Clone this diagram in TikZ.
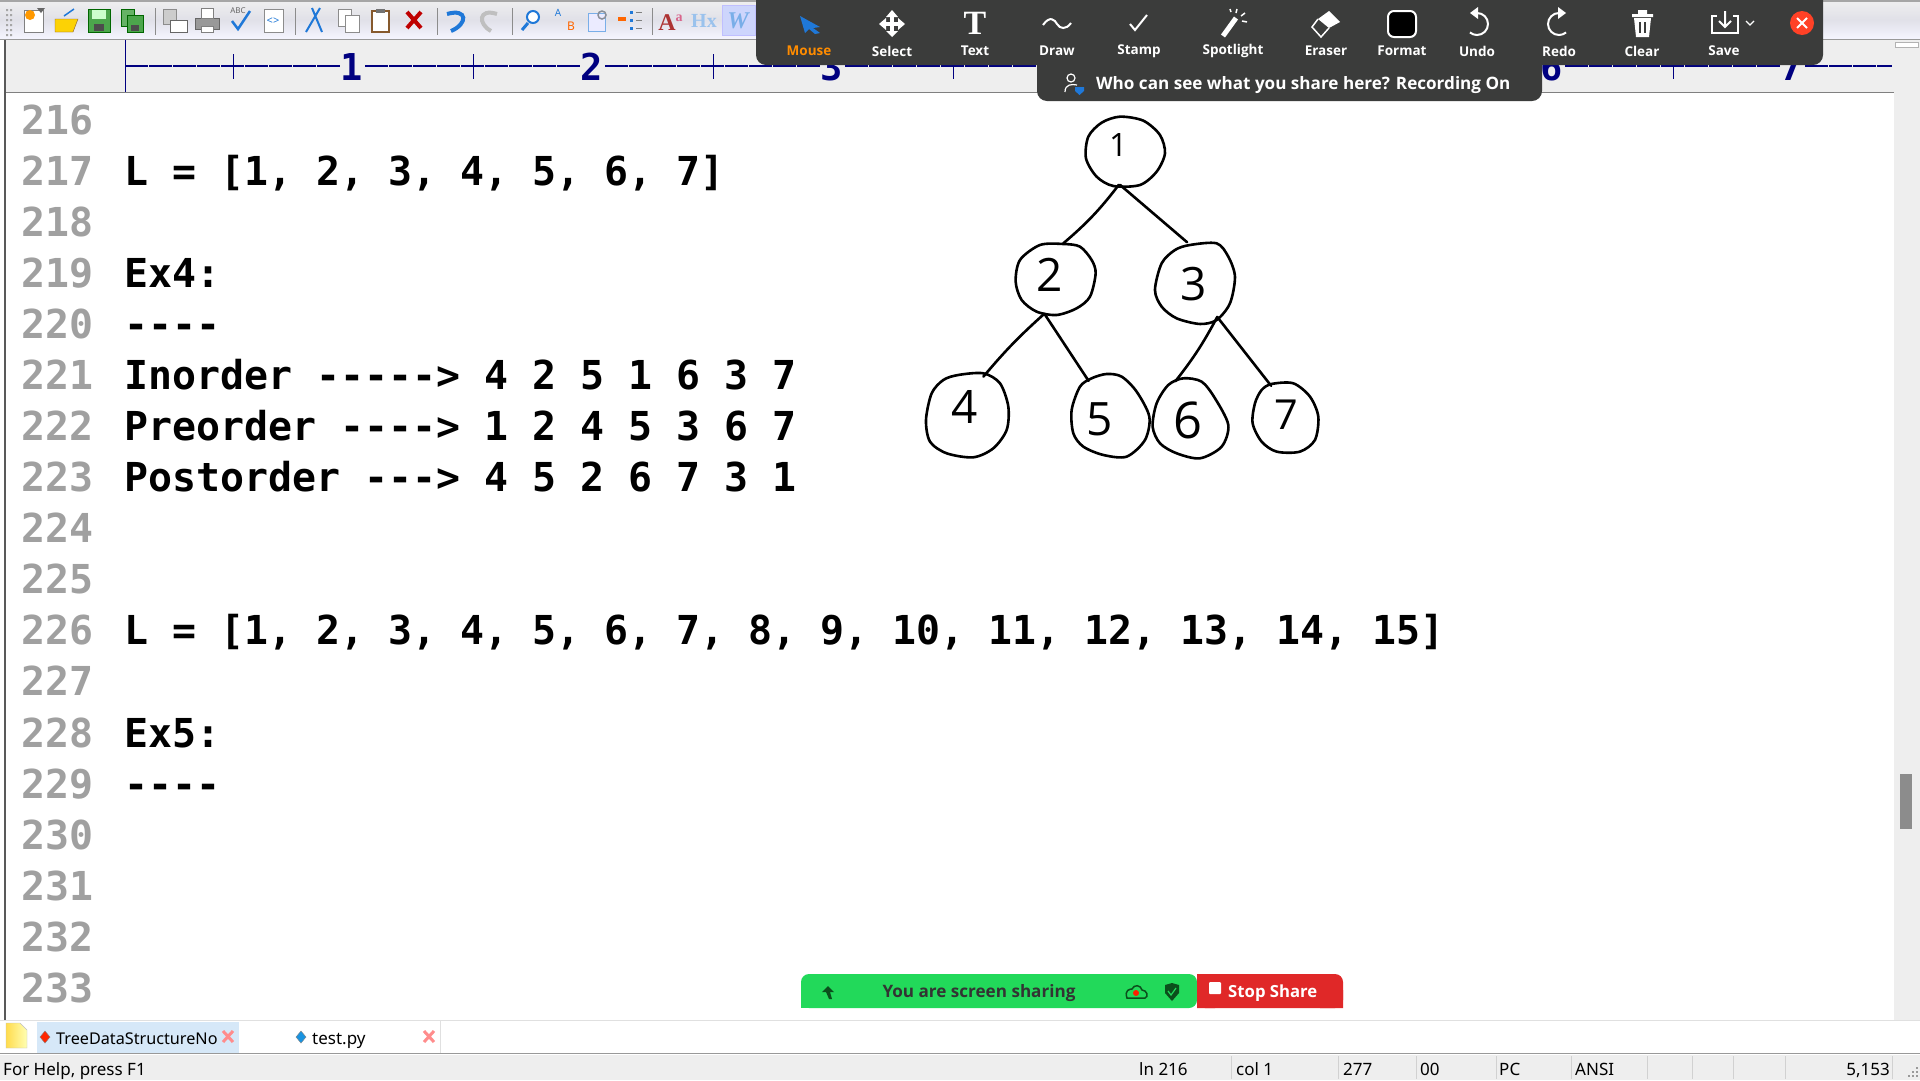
\documentclass[tikz,border=0pt]{standalone}
\usepackage{fontspec}
\usetikzlibrary{shapes.geometric}
\newfontfamily\codefont{DejaVu Sans Mono}
\newfontfamily\uifont{Noto Sans}
\newfontfamily\boldfont{Open Sans}
\newfontfamily\handfont{Open Sans}
\newfontfamily\iconserif{Liberation Serif}
\definecolor{numgray}{HTML}{A0A0A0}
\definecolor{rulerbg}{HTML}{EEEEEE}
\definecolor{rulerblue}{HTML}{000080}
\definecolor{zoombg}{HTML}{3B3C3B}
\definecolor{sharegreen}{HTML}{22D95A}
\definecolor{sharered}{HTML}{E02828}
\definecolor{darkgreen}{HTML}{0B4F1C}
\definecolor{tabblue}{HTML}{D6E8F8}
\definecolor{iconblue}{HTML}{1F78D8}
\definecolor{icongray}{HTML}{8A8F98}
\tikzset{
  codetext/.style={font={\codefont\bfseries\fontsize{39.87}{40}\selectfont},anchor=base west,inner sep=0pt},
  linenum/.style={codetext,text=numgray},
  rulerdigit/.style={font={\codefont\bfseries\fontsize{37}{37}\selectfont},text=rulerblue,fill=rulerbg,inner sep=1pt},
  rulertick/.style={draw=rulerblue,line width=1pt},
  zoomlabel/.style={font={\boldfont\bfseries\fontsize{13.5}{14}\selectfont},text=white,inner sep=0pt},
  zoomicon/.style={draw=white,line width=2pt},
  uitext/.style={font={\uifont\fontsize{17}{18}\selectfont},anchor=base west,inner sep=0pt},
  statustick/.style={draw=black!18,line width=1pt},
  toolsep/.style={draw=black!45,line width=1pt},
  blob/.style={ellipse,inner sep=0pt},
  handline/.style={draw=black,line width=2.6pt,line cap=round,line join=round},
  digit/.style={font={\handfont\fontsize{46}{46}\selectfont},inner sep=0pt},
}
\begin{document}
\begin{tikzpicture}[x=1pt,y=-1pt]
\useasboundingbox (0,0) rectangle (1920,1080);
\fill[white] (0,0) rectangle (1920,1080);

% toolbar
\shade[top color=black!6,bottom color=blue!4!white,middle color=blue!25!black!12] (0,0) rectangle (1920,39);
\fill[black!35] (0,0) rectangle (1920,1.5);
\fill[black!40] (0,38.5) rectangle (1920,40);
\foreach \y in {9,14,...,34} \fill[black!35] (6,\y) rectangle (8,\y+2) (10,\y) rectangle (12,\y+2);
\foreach \x in {155,295,437,512,652} \draw[toolsep] (\x,8) -- (\x,35);
\fill[tabblue!80!blue!60!white,draw=blue!25] (722,5) rectangle (755,35);
% new, open, save, save all
\draw[draw=black!50,fill=white] (24,10) rectangle (43,32);
\fill[orange!80!yellow] (30,15) circle (5);
\fill[black!60] (37,8) -- (45,8) -- (41,13) -- cycle;
\draw[draw=brown!70!black,fill=yellow!70!orange] (55,19) -- (78,19) -- (73,32) -- (55,32) -- cycle;
\draw[iconblue,line width=1.5pt] (64,16) -- (74,9);
\draw[draw=green!40!black,fill=green!50!black!70] (88,9) rectangle (110,32);
\fill[white!80!green] (92,10) rectangle (106,19);
\fill[black!70] (94,24) rectangle (104,31);
\draw[draw=green!40!black,fill=green!50!black!60] (121,9) rectangle (134,26);
\draw[draw=green!40!black,fill=green!50!black!70] (127,15) rectangle (143,32);
\fill[black!70] (131,25) rectangle (139,31);
% print preview, print, spelling, html
\draw[draw=black!45,fill=black!20] (163,9) rectangle (176,24);
\draw[draw=black!60,fill=white] (170,20) rectangle (187,32);
\draw[draw=black!60,fill=black!40] (195,18) rectangle (219,29);
\draw[draw=black!50,fill=white] (201,8) rectangle (213,18) (201,26) rectangle (213,32);
\node[font={\uifont\fontsize{8}{8}\selectfont},text=black!60,inner sep=0pt] (abcicon) at (238,11) {ABC};
\draw[iconblue,line width=2.5pt] (232,21) -- (238,29) -- (250,11);
\draw[draw=black!45,fill=white] (264,9) rectangle (283,32);
\node[font={\uifont\fontsize{11}{11}\selectfont},text=iconblue,inner sep=0pt] (htmlicon) at (273,21) {<>};
% cut, copy, paste, delete
\draw[iconblue,line width=2pt] (306,32) -- (320,8) (322,32) -- (312,8);
\draw[draw=black!45,fill=white] (338,9) rectangle (351,26);
\draw[draw=black!45,fill=white] (345,15) rectangle (359,32);
\draw[draw=brown!70!black,line width=1.5pt,fill=white] (372,11) rectangle (389,32);
\fill[black!55] (376,9) rectangle (385,13);
\draw[red!75!black,line width=4pt] (407,12) -- (421,28) (421,12) -- (407,28);
% undo, redo, find and the rest
\draw[iconblue,line width=4pt] (447,14) .. controls (468,8) and (468,24) .. (451,31);
\draw[black!25,line width=4pt] (497,14) .. controls (478,8) and (478,24) .. (491,31);
\draw[iconblue,line width=2pt,fill=white] (533,17) circle (6);
\draw[iconblue,line width=3pt] (528,23) -- (522,30);
\node[font={\uifont\fontsize{10}{10}\selectfont},text=iconblue,inner sep=0pt] (aicon) at (558,13) {A};
\node[font={\uifont\fontsize{12}{12}\selectfont},text=orange!80!red,inner sep=0pt] (bicon) at (571,26) {B};
\draw[draw=iconblue!60,fill=blue!8] (588,13) rectangle (605,31);
\draw[icongray,line width=1.5pt] (602,15) circle (4);
\fill[orange!80!red] (618,17) rectangle (626,21);
\foreach \y in {11,19,27} {
  \fill[iconblue] (630,\y) rectangle (633,\y+3);
  \fill[black!50] (636,\y+1) rectangle (642,\y+2);
}
\node[font={\iconserif\bfseries\fontsize{24}{24}\selectfont},text=red!60!black!80,inner sep=0pt] (aaicon) at (667,23) {A};
\node[font={\iconserif\bfseries\fontsize{14}{14}\selectfont},text=purple!60,inner sep=0pt] (aasmall) at (679,18) {a};
\node[font={\iconserif\bfseries\fontsize{20}{20}\selectfont},text=iconblue!45,inner sep=0pt] (hxicon) at (704,21) {Hx};
\node[font={\iconserif\bfseries\itshape\fontsize{24}{24}\selectfont},text=iconblue!60,inner sep=0pt] (wicon) at (738,21) {W};

% ruler
\fill[rulerbg] (5,40) rectangle (1894,92);
\fill[black!50] (5,91.5) rectangle (1894,93);
\draw[rulertick] (125,40) -- (125,92);
\draw[rulerblue,line width=1.2pt,dash pattern=on 23pt off 1pt] (125,66) -- (1892,66);
\foreach \k in {0,...,6} \draw[rulertick] ({233+240*\k},54) -- ({233+240*\k},79);
\foreach \k [evaluate=\k as \xpos using {352+240*(\k-1)}] in {1,2,3,6,7}
  \node[rulerdigit] (rul\k) at (\xpos,67) {\k};

% right scrollbar, left edge
\fill[rulerbg] (1894,40) rectangle (1920,1020);
\draw[black!30,fill=white] (1895,42) rectangle (1918,47);
\fill[black!45] (1900,774) rectangle (1912,829);
\fill[black!65] (4,40) rectangle (6,1020);

% code lines
\foreach \n in {216,...,233}
  \node[linenum] (ln\n) at (21.5,{134.2+51.07*(\n-216)}) {\n};
\node[codetext] (c217) at (124,185.2) {L = [1, 2, 3, 4, 5, 6, 7]};
\node[codetext] (c219) at (124,287.3) {Ex4:};
\node[codetext] (c220) at (124,338.4) {{-}{-}{-}{-}};
\node[codetext] (c221) at (124,389.5) {Inorder {-}{-}{-}{-}{-}> 4 2 5 1 6 3 7};
\node[codetext] (c222) at (124,440.6) {Preorder {-}{-}{-}{-}> 1 2 4 5 3 6 7};
\node[codetext] (c223) at (124,491.6) {Postorder {-}{-}{-}> 4 5 2 6 7 3 1};
\node[codetext] (c226) at (124,644.8) {L = [1, 2, 3, 4, 5, 6, 7, 8, 9, 10, 11, 12, 13, 14, 15]};
\node[codetext] (c228) at (124,747) {Ex5:};
\node[codetext] (c229) at (124,798) {{-}{-}{-}{-}};

% hand drawn tree
\begin{scope}[shift={(900,100)},x=0.3333pt,y=-0.3333pt]
  \node[blob,minimum width=80pt,minimum height=70pt] (n1) at (675,150) {};
  \node[blob,minimum width=80pt,minimum height=72pt] (n2) at (467,537) {};
  \node[blob,minimum width=80pt,minimum height=82pt] (n3) at (885,548) {};
  \node[blob,minimum width=82pt,minimum height=84pt] (n4) at (201,946) {};
  \node[blob,minimum width=78pt,minimum height=83pt] (n5) at (631,947) {};
  \node[blob,minimum width=76pt,minimum height=80pt] (n6) at (871,955) {};
  \node[blob,minimum width=66pt,minimum height=70pt] (n7) at (1156,953) {};
  \draw[handline] plot[smooth cycle] coordinates {(660,50) (730,62) (780,105) (795,160) (770,215) (720,255) (640,258) (590,230) (558,175) (565,110) (605,68)};
  \draw[handline] plot[smooth cycle] coordinates {(490,432) (540,440) (575,480) (587,520) (570,590) (530,625) (470,645) (410,635) (365,600) (347,545) (360,480) (420,435)};
  \draw[handline] plot[smooth cycle] coordinates {(870,435) (950,430) (985,470) (1005,530) (990,610) (950,660) (900,672) (830,655) (785,620) (765,570) (785,490) (825,450)};
  \draw[handline] plot[smooth cycle] coordinates {(175,825) (250,820) (300,850) (325,920) (320,990) (280,1045) (220,1072) (140,1060) (90,1025) (78,960) (95,880) (130,840)};
  \draw[handline] plot[smooth cycle] coordinates {(620,822) (665,830) (710,875) (748,950) (735,1020) (680,1070) (610,1065) (550,1040) (520,1000) (515,930) (540,860) (575,835)};
  \draw[handline] plot[smooth cycle] coordinates {(850,835) (905,845) (945,895) (985,975) (965,1040) (900,1075) (830,1060) (780,1030) (758,980) (770,910) (805,855)};
  \draw[handline] plot[smooth cycle] coordinates {(1115,852) (1180,850) (1230,890) (1255,950) (1245,1020) (1200,1055) (1130,1055) (1085,1025) (1058,970) (1065,910) (1085,870)};
  \node[digit,scale=0.7] (t1) at (655,135) {1};
  \node[digit] (t2) at (450,525) {2};
  \node[digit] (t3) at (880,553) {3};
  \node[digit] (t4) at (195,920) {4};
  \node[digit] (t5) at (600,958) {5};
  \node[digit,scale=1.1] (t6) at (865,960) {6};
  \node[digit,scale=0.9] (t7) at (1160,945) {7};
  \draw[handline] (n1.260) to[bend left=6] (n2.78);
  \draw[handline] (n1.262) -- (n3.101);
  \draw[handline] (n2.252) to[bend right=4] (n4.67);
  \draw[handline] (n2.252) -- (n5.122);
  \draw[handline] (n3.303) to[bend left=5] (n6.112);
  \draw[handline] (n3.303) -- (n7.114);
\end{scope}

% zoom bar
\fill[zoombg,rounded corners=10pt] (756,-15) rectangle (1823,65);
\fill[zoombg,rounded corners=10pt] (1037,50) rectangle (1542,101);
\node[zoomlabel,text=orange!90!yellow] (lbmouse) at (809,51) {Mouse};
\node[zoomlabel] (lbselect) at (892,51) {Select};
\node[zoomlabel] (lbtext) at (975,51) {Text};
\node[zoomlabel] (lbdraw) at (1057,51) {Draw};
\node[zoomlabel] (lbstamp) at (1139,51) {Stamp};
\node[zoomlabel] (lbspot) at (1233,51) {Spotlight};
\node[zoomlabel] (lberaser) at (1326,51) {Eraser};
\node[zoomlabel] (lbformat) at (1402,51) {Format};
\node[zoomlabel] (lbundo) at (1477,51) {Undo};
\node[zoomlabel] (lbredo) at (1559,51) {Redo};
\node[zoomlabel] (lbclear) at (1642,51) {Clear};
\node[zoomlabel] (lbsave) at (1724,51) {Save};
\fill[iconblue] (800,16) -- (820,27) -- (813,28) -- (820,33) -- (815,34) -- (809,29) -- (805,33) -- cycle;
\draw[white,line width=4pt] (892,14) -- (892,34) (882,24) -- (902,24);
\fill[white] (892,10) -- (898,17) -- (886,17) -- cycle (892,37) -- (898,31) -- (886,31) -- cycle (879,24) -- (886,18) -- (886,30) -- cycle (905,24) -- (898,18) -- (898,30) -- cycle;
\node[font={\iconserif\bfseries\fontsize{34}{34}\selectfont},text=white,inner sep=0pt] (ticon) at (975,23) {T};
\draw[zoomicon] (1043,25) .. controls (1050,15) and (1055,20) .. (1057,24) .. controls (1060,29) and (1066,30) .. (1071,23);
\draw[zoomicon] (1130,24) -- (1135,30) -- (1147,15);
\draw[white,line width=5pt] (1223,36) -- (1236,18);
\draw[white,line width=1.5pt] (1236,13) -- (1237,9) (1241,16) -- (1245,13) (1242,21) -- (1247,22) (1231,12) -- (1230,9);
\fill[white] (1329,11) -- (1340,22) -- (1329,28) -- (1318,19) -- cycle;
\draw[white,line width=1.5pt] (1318,19) -- (1312,27) -- (1321,37) -- (1329,28);
\draw[white,line width=2pt,fill=black,rounded corners=6pt] (1388,11) rectangle (1416,37);
\draw[zoomicon] (1477,13) arc (-90:130:11);
\fill[white] (1470,13) -- (1478,7) -- (1478,19) -- cycle;
\draw[zoomicon] (1559,13) arc (270:50:11);
\fill[white] (1566,13) -- (1558,7) -- (1558,19) -- cycle;
\fill[white] (1632,14) rectangle (1653,17) (1638,10) rectangle (1647,14);
\fill[white] (1634,18) -- (1651,18) -- (1649,37) -- (1636,37) -- cycle;
\draw[zoombg,line width=1.5pt] (1640,22) -- (1640,33) (1645,22) -- (1645,33);
\draw[white,line width=1.5pt] (1717,16) -- (1712,16) -- (1712,33) -- (1738,33) -- (1738,16) -- (1733,16);
\draw[white,line width=2pt] (1725,11) -- (1725,27) (1719,21) -- (1725,27) -- (1731,21);
\draw[white,line width=1.2pt] (1746,21) -- (1750,25) -- (1754,21);
\fill[red!75!orange!85!white] (1802,23) circle (12);
\draw[white,line width=2pt] (1797,18) -- (1807,28) (1807,18) -- (1797,28);
\node[font={\boldfont\bfseries\fontsize{17.1}{18}\selectfont},text=white,inner sep=0pt,anchor=west] (whosee) at (1096,85) {Who can see what you share here? Recording On};
\draw[white,line width=1.2pt] (1071,78) circle (4) (1065,92) .. controls (1065,84) and (1072,84) .. (1077,85);
\fill[iconblue] (1075,87) -- (1084,87) -- (1084,91) -- (1079.5,95) -- (1075,91) -- cycle;

% share bar
\fill[sharegreen,rounded corners=8pt] (801,974) -- (1197,974) -- (1197,1008) -- (801,1008) -- cycle;
\fill[sharegreen] (801,985) rectangle (820,1008);
\fill[sharered,rounded corners=8pt] (1197,974) -- (1343,974) -- (1343,1008) -- (1197,1008) -- cycle;
\fill[sharered] (1197,974) rectangle (1215,1008) (1320,990) rectangle (1343,1008);
\node[font={\boldfont\bfseries\fontsize{17.1}{18}\selectfont},text=black!80,inner sep=0pt] (sharing) at (979,993) {You are screen sharing};
\node[font={\boldfont\bfseries\fontsize{16.7}{18}\selectfont},text=white,inner sep=0pt,anchor=west] (stopshare) at (1228,993) {Stop Share};
\fill[white,rounded corners=1pt] (1209,982) rectangle (1221,994);
\fill[darkgreen] (828,986) -- (834,992) -- (830,992) -- (832,999) -- (829,999) -- (826,992) -- (822,992) -- cycle;
\draw[darkgreen,line width=1.5pt,fill=sharegreen] (1127,998) .. controls (1124,990) and (1130,989) .. (1132,989) .. controls (1134,984) and (1141,985) .. (1142,990) .. controls (1147,990) and (1149,997) .. (1145,998) -- cycle;
\fill[red!75!orange] (1136,993) circle (3);
\fill[darkgreen] (1165,985) -- (1172,983) -- (1179,985) -- (1179,993) -- (1172,1001) -- (1165,993) -- cycle;
\draw[sharegreen,line width=1.2pt] (1168,991) -- (1171,995) -- (1176,988);

% tabs
\fill[black!12] (0,1020) rectangle (1920,1021);
\fill[tabblue] (37,1022) rectangle (239,1053);
\draw[black!12] (440,1021) -- (440,1053);
\shade[left color=yellow!60!orange!70!white,right color=yellow!30!white,draw=black!25] (6,1023) -- (20,1023) -- (27,1030) -- (27,1048) -- (6,1048) -- cycle;
\fill[red!70!orange,draw=black!50] (45,1031) -- (50,1037) -- (45,1043) -- (40,1037) -- cycle;
\fill[iconblue!80!cyan,draw=black!50] (301,1031) -- (306,1037) -- (301,1043) -- (296,1037) -- cycle;
\node[uitext,font={\uifont\fontsize{16.2}{18}\selectfont}] (tabtree) at (56,1044) {TreeDataStructureNo};
\node[uitext] (tabtest) at (312,1044) {test.py};
\draw[red!45,line width=3pt] (223,1031) -- (233,1042) (233,1031) -- (223,1042);
\draw[red!45,line width=3pt] (424,1031) -- (434,1042) (434,1031) -- (424,1042);

% status bar
\fill[black!40] (0,1053) rectangle (1920,1054);
\fill[rulerbg] (0,1055) rectangle (1920,1080);
\node[uitext] (sthelp) at (3,1075) {For Help, press F1};
\node[uitext] (stln) at (1139,1075) {ln 216};
\node[uitext] (stcol) at (1236,1075) {col 1};
\node[uitext] (stnum) at (1343,1075) {277};
\node[uitext] (stzero) at (1420,1075) {00};
\node[uitext] (stpc) at (1499,1075) {PC};
\node[uitext] (stansi) at (1575,1075) {ANSI};
\node[uitext,anchor=base east] (stsize) at (1890,1075) {5,153};
\foreach \x in {1231,1338,1416,1496,1571,1647,1692,1733,1785,1892}
  \draw[statustick] (\x,1056) -- (\x,1079);
\foreach \x/\y in {1916/1067,1912/1071,1916/1071,1908/1075,1912/1075,1916/1075}
  \fill[black!40] (\x,\y) rectangle (\x+2,\y+2);
\end{tikzpicture}
\end{document}
